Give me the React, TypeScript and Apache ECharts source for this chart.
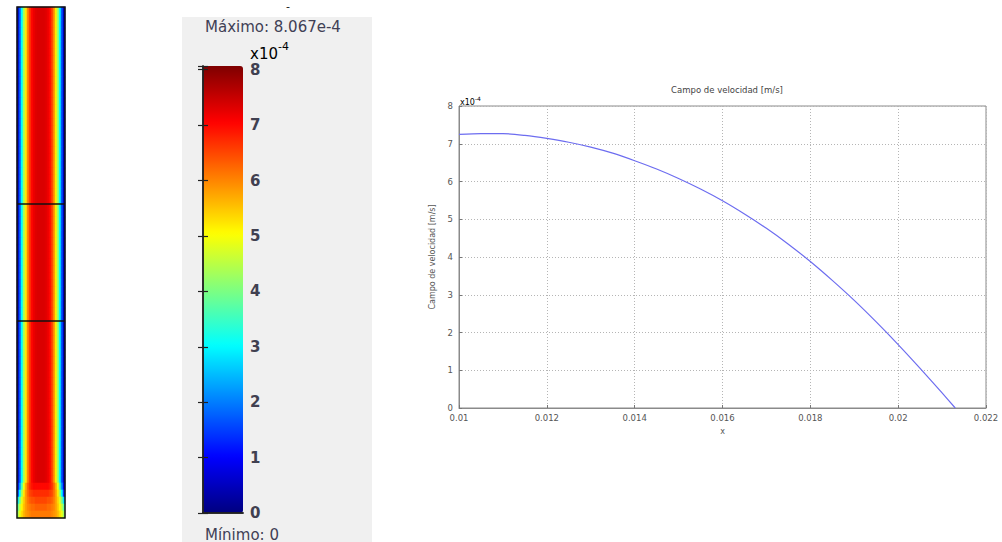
import React, { useEffect, useRef } from "react";
import * as echarts from "echarts";

// ---- Line chart data (velocity in units of 1e-4 m/s) ----
const xPositions = [
  0.01, 0.0105, 0.011, 0.0115, 0.012, 0.0125, 0.013, 0.0135, 0.014, 0.0145,
  0.015, 0.0155, 0.016, 0.0165, 0.017, 0.0175, 0.018, 0.0185, 0.019, 0.0195,
  0.02, 0.0205, 0.021, 0.0213,
];
const velocityE4 = [
  7.25, 7.27, 7.27, 7.22, 7.14, 7.04, 6.91, 6.75, 6.55, 6.33,
  6.08, 5.8, 5.49, 5.14, 4.76, 4.34, 3.88, 3.38, 2.85, 2.28,
  1.68, 1.05, 0.4, 0.0,
];
const xTicks = [0.01, 0.012, 0.014, 0.016, 0.018, 0.02, 0.022];
const yTicks = [0, 1, 2, 3, 4, 5, 6, 7, 8];

// ---- Velocity field strip (units 1e-4), profile across the channel ----
const fieldColumns = 24;
const fieldRows = 73;
const mainProfile = [
  0.5, 1.7, 3.0, 4.3, 5.2, 6.0, 6.6, 7.0, 7.2, 7.3, 7.35, 7.35,
  7.35, 7.35, 7.3, 7.2, 7.0, 6.6, 6.0, 5.2, 4.3, 3.0, 1.7, 0.5,
];
const entryProfiles = [
  [0.8, 2.2, 3.6, 4.9, 5.7, 6.3, 6.7, 6.9, 7.0, 7.0, 7.0, 7.0, 7.0, 7.0, 7.0, 7.0, 6.9, 6.7, 6.3, 5.7, 4.9, 3.6, 2.2, 0.8],
  [1.4, 3.0, 4.3, 5.2, 5.8, 6.2, 6.5, 6.6, 6.7, 6.7, 6.7, 6.7, 6.7, 6.7, 6.7, 6.7, 6.6, 6.5, 6.2, 5.8, 5.2, 4.3, 3.0, 1.4],
  [2.8, 4.0, 4.8, 5.4, 5.8, 6.1, 6.3, 6.4, 6.4, 6.5, 6.5, 6.5, 6.5, 6.5, 6.5, 6.4, 6.4, 6.3, 6.1, 5.8, 5.4, 4.8, 4.0, 2.8],
  [3.8, 4.6, 5.1, 5.5, 5.8, 6.0, 6.1, 6.2, 6.2, 6.3, 6.3, 6.3, 6.3, 6.3, 6.3, 6.2, 6.2, 6.1, 6.0, 5.8, 5.5, 5.1, 4.6, 3.8],
  [4.3, 4.9, 5.3, 5.6, 5.8, 5.9, 6.0, 6.1, 6.1, 6.1, 6.1, 6.1, 6.1, 6.1, 6.1, 6.1, 6.1, 6.0, 5.9, 5.8, 5.6, 5.3, 4.9, 4.3],
];
const fieldMax = 8.067;
const fieldMin = 0;
const colorbarTicks = [0, 1, 2, 3, 4, 5, 6, 7, 8];
const jetColors = [
  "#00007f", "#0000ff", "#007fff", "#00ffff", "#7fff7f",
  "#ffff00", "#ff7f00", "#ff0000", "#7f0000",
];

const FONT = "DejaVu Sans";

export default function App() {
  const ref = useRef<HTMLDivElement>(null);

  useEffect(() => {
    if (!ref.current) return;
    const chart = echarts.init(ref.current, undefined, { renderer: "svg" });

    const heatData: number[][] = [];
    for (let r = 0; r < fieldRows; r++) {
      const entryIdx = r - (fieldRows - entryProfiles.length);
      const prof = entryIdx >= 0 ? entryProfiles[entryIdx] : mainProfile;
      for (let c = 0; c < fieldColumns; c++) heatData.push([c, r, prof[c]]);
    }
    const colCats = Array.from({ length: fieldColumns }, (_, i) => String(i));
    const rowCats = Array.from({ length: fieldRows }, (_, i) => String(i));

    const lineData = xPositions.map((x, i) => [x, velocityE4[i]]);
    const smallLabel = { fontFamily: FONT, fontSize: 8.5, color: "#555" };

    const option: any = {
      animation: false,
      backgroundColor: "#ffffff",
      title: {
        text: "Campo de velocidad [m/s]",
        left: 722,
        top: 80,
        textAlign: "center",
        textStyle: { fontFamily: FONT, fontSize: 8.5, fontWeight: "normal", color: "#444" },
      },
      grid: [
        { left: 17, top: 7, width: 48, height: 511, show: false },
        { left: 203, top: 66, width: 40, height: 447, show: false },
        { left: 459, top: 106, width: 527, height: 302, show: true, borderColor: "#8a8a8a", borderWidth: 1 },
      ],
      xAxis: [
        { type: "category", gridIndex: 0, data: colCats, show: false },
        {
          type: "value", gridIndex: 1, min: 0, max: 1, position: "bottom", z: 10,
          axisLine: { show: true, lineStyle: { color: "#222", width: 1.5 } },
          axisTick: { show: false }, axisLabel: { show: false }, splitLine: { show: false },
        },
        {
          type: "value", gridIndex: 1, min: 0, max: 1, position: "top", z: 10,
          axisLine: { show: true, lineStyle: { color: "#222", width: 1.5 } },
          axisTick: { show: false }, axisLabel: { show: false }, splitLine: { show: false },
        },
        {
          type: "value", gridIndex: 2, min: xTicks[0], max: xTicks[xTicks.length - 1], interval: 0.002,
          name: "x", nameLocation: "middle", nameGap: 19,
          nameTextStyle: { fontFamily: FONT, fontSize: 8, color: "#555" },
          axisLine: { show: true, lineStyle: { color: "#8a8a8a" } },
          axisTick: { show: true, inside: true, length: 3, lineStyle: { color: "#777" } },
          axisLabel: { ...smallLabel, margin: 5 },
          splitLine: { show: true, lineStyle: { color: "#b5b5b5", type: [1, 2], width: 1 } },
        },
      ],
      yAxis: [
        { type: "category", gridIndex: 0, data: rowCats, inverse: true, show: false },
        {
          type: "value", gridIndex: 1, min: fieldMin, max: fieldMax, interval: 1, position: "left", z: 10,
          axisLine: { show: true, lineStyle: { color: "#222", width: 1.5 } },
          axisTick: { show: true, inside: true, length: 5, lineStyle: { color: "#222", width: 1.2 } },
          axisLabel: { show: false }, splitLine: { show: false },
        },
        {
          type: "value", gridIndex: 1, min: fieldMin, max: fieldMax, interval: 1, position: "right", z: 10,
          axisLine: { show: true, lineStyle: { color: "#222", width: 1.5 } },
          axisTick: { show: true, inside: true, length: 5, lineStyle: { color: "#222", width: 1.2 } },
          axisLabel: {
            show: true, margin: 7, fontFamily: FONT, fontSize: 15, fontWeight: "bold", color: "#404050",
            formatter: (v: number) => (colorbarTicks.includes(v) ? String(v) : ""),
          },
          splitLine: { show: false },
        },
        {
          type: "value", gridIndex: 2, min: yTicks[0], max: yTicks[yTicks.length - 1], interval: 1,
          name: "Campo de velocidad [m/s]", nameLocation: "middle", nameGap: 17,
          nameTextStyle: { fontFamily: FONT, fontSize: 8, color: "#555" },
          axisLine: { show: true, lineStyle: { color: "#8a8a8a" } },
          axisTick: { show: true, inside: true, length: 3, lineStyle: { color: "#777" } },
          axisLabel: { ...smallLabel, margin: 6 },
          splitLine: { show: true, lineStyle: { color: "#b5b5b5", type: [1, 2], width: 1 } },
        },
      ],
      visualMap: {
        type: "continuous",
        min: fieldMin,
        max: fieldMax,
        seriesIndex: 0,
        left: 203,
        top: 66,
        itemWidth: 40,
        itemHeight: 447,
        padding: 0,
        calculable: false,
        hoverLink: false,
        inRange: { color: jetColors },
      },
      series: [
        {
          type: "heatmap",
          xAxisIndex: 0,
          yAxisIndex: 0,
          data: heatData,
          progressive: 0,
          emphasis: { disabled: true },
        },
        {
          type: "line",
          xAxisIndex: 3,
          yAxisIndex: 3,
          data: lineData,
          showSymbol: false,
          smooth: 0.25,
          lineStyle: { color: "#6d6df0", width: 1.2 },
          z: 5,
        },
      ],
      graphic: [
        { type: "rect", z: -10, shape: { x: 182, y: 17, width: 190, height: 525 }, style: { fill: "#f0f0f0" } },
        { type: "text", z: 10, x: 286, y: 1, style: { text: "-", fontSize: 11, fontFamily: FONT, fill: "#111" } },
        {
          type: "text", z: 10, x: 205, y: 19,
          style: { text: "Máximo: 8.067e-4", fontSize: 15, fontFamily: FONT, fill: "#404055" },
        },
        {
          type: "text", z: 10, x: 250, y: 40,
          style: {
            text: "{a|x10}{b|-4}",
            fontFamily: FONT,
            rich: {
              a: { fontSize: 15, fontFamily: FONT, color: "#404055", padding: [6, 0, 0, 0] },
              b: { fontSize: 11, fontFamily: FONT, color: "#404055", padding: [0, 0, 8, 0] },
            },
          },
        },
        {
          type: "text", z: 10, x: 205, y: 527,
          style: { text: "Mínimo: 0", fontSize: 15, fontFamily: FONT, fill: "#404055" },
        },
        {
          type: "text", z: 10, x: 460, y: 95,
          style: {
            text: "{a|x10}{b|-4}",
            fontFamily: FONT,
            rich: {
              a: { fontSize: 8, fontFamily: FONT, color: "#555", padding: [3, 0, 0, 0] },
              b: { fontSize: 6, fontFamily: FONT, color: "#555", padding: [0, 0, 4, 0] },
            },
          },
        },
        { type: "rect", z: 100, shape: { x: 17, y: 7, width: 48, height: 511 }, style: { fill: "none", stroke: "#111", lineWidth: 1.5 } },
        { type: "line", z: 100, shape: { x1: 17, y1: 204, x2: 65, y2: 204 }, style: { stroke: "#111", lineWidth: 1.5 } },
        { type: "line", z: 100, shape: { x1: 17, y1: 321, x2: 65, y2: 321 }, style: { stroke: "#111", lineWidth: 1.5 } },
      ],
    };

    chart.setOption(option);
    return () => chart.dispose();
  }, []);

  return (
    <div
      ref={ref}
      style={{ position: "fixed", left: 0, top: 0, width: 1002, height: 542, background: "#fff" }}
    />
  );
}
